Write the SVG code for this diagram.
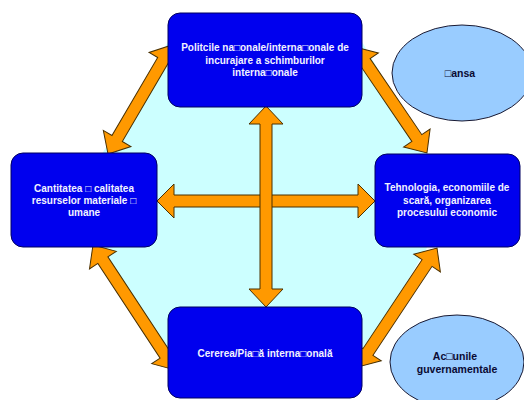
<svg xmlns="http://www.w3.org/2000/svg" width="524" height="400" viewBox="0 0 524 400">
<style>
.box{fill:#0000EE;stroke:#000060;stroke-width:1}
.ell{fill:#99CCFF;stroke:#1a1a33;stroke-width:1}
.arr{fill:#FF9900;stroke:#4a3000;stroke-width:1;stroke-linejoin:miter}
.bt{font-family:"Liberation Sans","DejaVu Sans",Arial,sans-serif;font-size:10px;font-weight:bold;fill:#F2F2FF;text-anchor:middle}
.et{font-family:"Liberation Sans","DejaVu Sans",Arial,sans-serif;font-size:10.5px;font-weight:bold;fill:#0a0a33;text-anchor:middle}
</style>
<rect width="524" height="400" fill="#FFFFFF"/>
<polygon id="hexagon" points="172,35 358,35 455,200 358,365 172,365 75,200" fill="#CCFFFF"/>
<g id="connectors">
<path class="arr" transform="translate(140,99.5) rotate(-59.6)" d="M-63.2,0 L-45.2,-16 L-45.2,-6 L45.2,-6 L45.2,-16 L63.2,0 L45.2,16 L45.2,6 L-45.2,6 L-45.2,16 Z"/>
<path class="arr" transform="translate(391,100) rotate(55.8)" d="M-64,0 L-46,-16 L-46,-6 L46,-6 L46,-16 L64,0 L46,16 L46,6 L-46,6 L-46,16 Z"/>
<path class="arr" transform="translate(134,307.5) rotate(56.7)" d="M-74.7,0 L-56.7,-16 L-56.7,-6 L56.7,-6 L56.7,-16 L74.7,0 L56.7,16 L56.7,6 L-56.7,6 L-56.7,16 Z"/>
<path class="arr" transform="translate(397.5,307.5) rotate(-56.4)" d="M-71.4,0 L-53.4,-16 L-53.4,-6 L53.4,-6 L53.4,-16 L71.4,0 L53.4,16 L53.4,6 L-53.4,6 L-53.4,16 Z"/>
<path class="arr" transform="translate(266,201)" d="M-109,0 L-92,-17 L-92,-6 L92,-6 L92,-17 L109,0 L92,17 L92,6 L-92,6 L-92,17 Z"/>
<path class="arr" transform="translate(266,206.5) rotate(90)" d="M-100.5,0 L-82.5,-17 L-82.5,-6 L82.5,-6 L82.5,-17 L100.5,0 L82.5,17 L82.5,6 L-82.5,6 L-82.5,17 Z"/>
</g>
<g id="node-politici">
<rect class="box" x="168" y="13" width="194" height="94" rx="12"/>
<text class="bt" x="265" y="51">Politcile na□onale/interna□onale de</text>
<text class="bt" x="265" y="64">incurajare a schimburilor</text>
<text class="bt" x="265" y="76">interna□onale</text>
</g>
<g id="node-resurse">
<rect class="box" x="11" y="153" width="146" height="94" rx="12"/>
<text class="bt" x="84" y="192">Cantitatea □ calitatea</text>
<text class="bt" x="84" y="204">resurselor materiale □</text>
<text class="bt" x="84" y="216">umane</text>
</g>
<g id="node-tehnologia">
<rect class="box" x="375" y="154" width="145" height="93" rx="12"/>
<text class="bt" x="447" y="191">Tehnologia, economiile de</text>
<text class="bt" x="447" y="204">scară, organizarea</text>
<text class="bt" x="447" y="216">procesului economic</text>
</g>
<g id="node-cererea">
<rect class="box" x="168" y="307" width="194" height="91" rx="12"/>
<text class="bt" x="265" y="357">Cererea/Pia□ă interna□onală</text>
</g>
<g id="node-sansa">
<ellipse class="ell" cx="462" cy="73" rx="70" ry="48"/>
<text class="et" x="460" y="77">□ansa</text>
</g>
<g id="node-actiunile">
<ellipse class="ell" cx="457" cy="362" rx="67" ry="47"/>
<text class="et" x="455" y="360">Ac□unile</text>
<text class="et" x="457" y="373">guvernamentale</text>
</g>
</svg>
